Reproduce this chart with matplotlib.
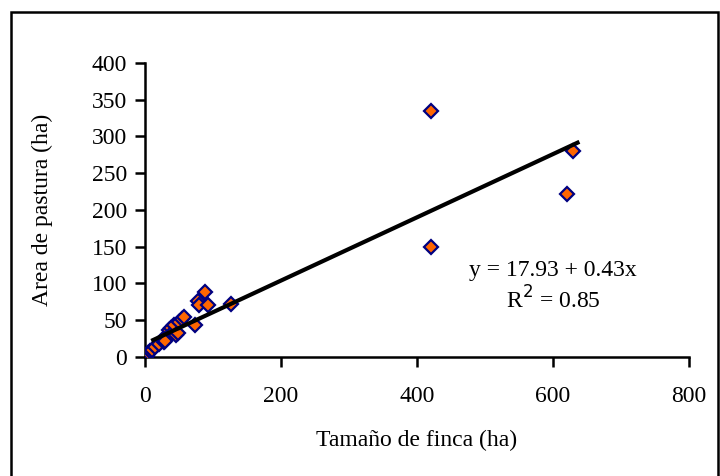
import matplotlib
matplotlib.use("Agg")
import matplotlib.pyplot as plt
from matplotlib.patches import Rectangle
import numpy as np

# Data
tamano = [3, 5, 8, 10, 15, 20, 26, 28, 30, 35, 38, 40, 42, 45, 48, 50, 55, 57,
          73, 78, 80, 88, 92, 126, 420, 420, 620, 630]
pastura = [2, 5, 8, 10, 14, 18, 25, 20, 22, 37, 40, 32, 43, 30, 33, 47, 52, 55,
           44, 76, 71, 88, 71, 72, 335, 150, 221, 280]
intercept = 17.93
slope = 0.43
line_x = [12, 636]
xticks = [0, 200, 400, 600, 800]
yticks = [0, 50, 100, 150, 200, 250, 300, 350, 400]

plt.rcParams['font.family'] = ['Liberation Serif', 'DejaVu Serif']
FS = 17

fig = plt.figure(figsize=(7.2, 4.76), dpi=100)
ax = fig.add_axes([0.2014, 0.25, 0.7556, 0.618])

lx = np.array(line_x)
ax.plot(tamano, pastura, linestyle='none', marker='D', markersize=7,
        markerfacecolor='#FF6600', markeredgecolor='#000080', markeredgewidth=1.6,
        zorder=3)
ax.plot(lx, intercept + slope * lx, color='black', lw=3, zorder=4)

ax.set_xlim(0, 800)
ax.set_ylim(0, 400)
ax.set_xticks(xticks)
ax.set_yticks(yticks)
ax.spines['top'].set_visible(False)
ax.spines['right'].set_visible(False)
for s in ['left', 'bottom']:
    ax.spines[s].set_linewidth(1.8)
ax.tick_params(direction='out', length=7, width=1.8, labelsize=FS)
ax.tick_params(axis='x', pad=14)
ax.tick_params(axis='y', pad=6)

ax.set_xlabel('Tamaño de finca (ha)', fontsize=FS, va='center')
ax.xaxis.set_label_coords(0.5, -0.282)
ax.set_ylabel('Area de pastura (ha)', fontsize=FS, va='center')
ax.yaxis.set_label_coords(-0.189, 0.5)

ax.text(600, 118, 'y = 17.93 + 0.43x', fontsize=FS, ha='center', va='center')
ax.text(600, 77, 'R$^2$ = 0.85', fontsize=FS, ha='center', va='center')

fig.patches.append(Rectangle((0.0146, -0.05), 0.982, 1.024, transform=fig.transFigure,
                             fill=False, edgecolor='black', lw=1.8))

fig.savefig('out.png', dpi=100)
